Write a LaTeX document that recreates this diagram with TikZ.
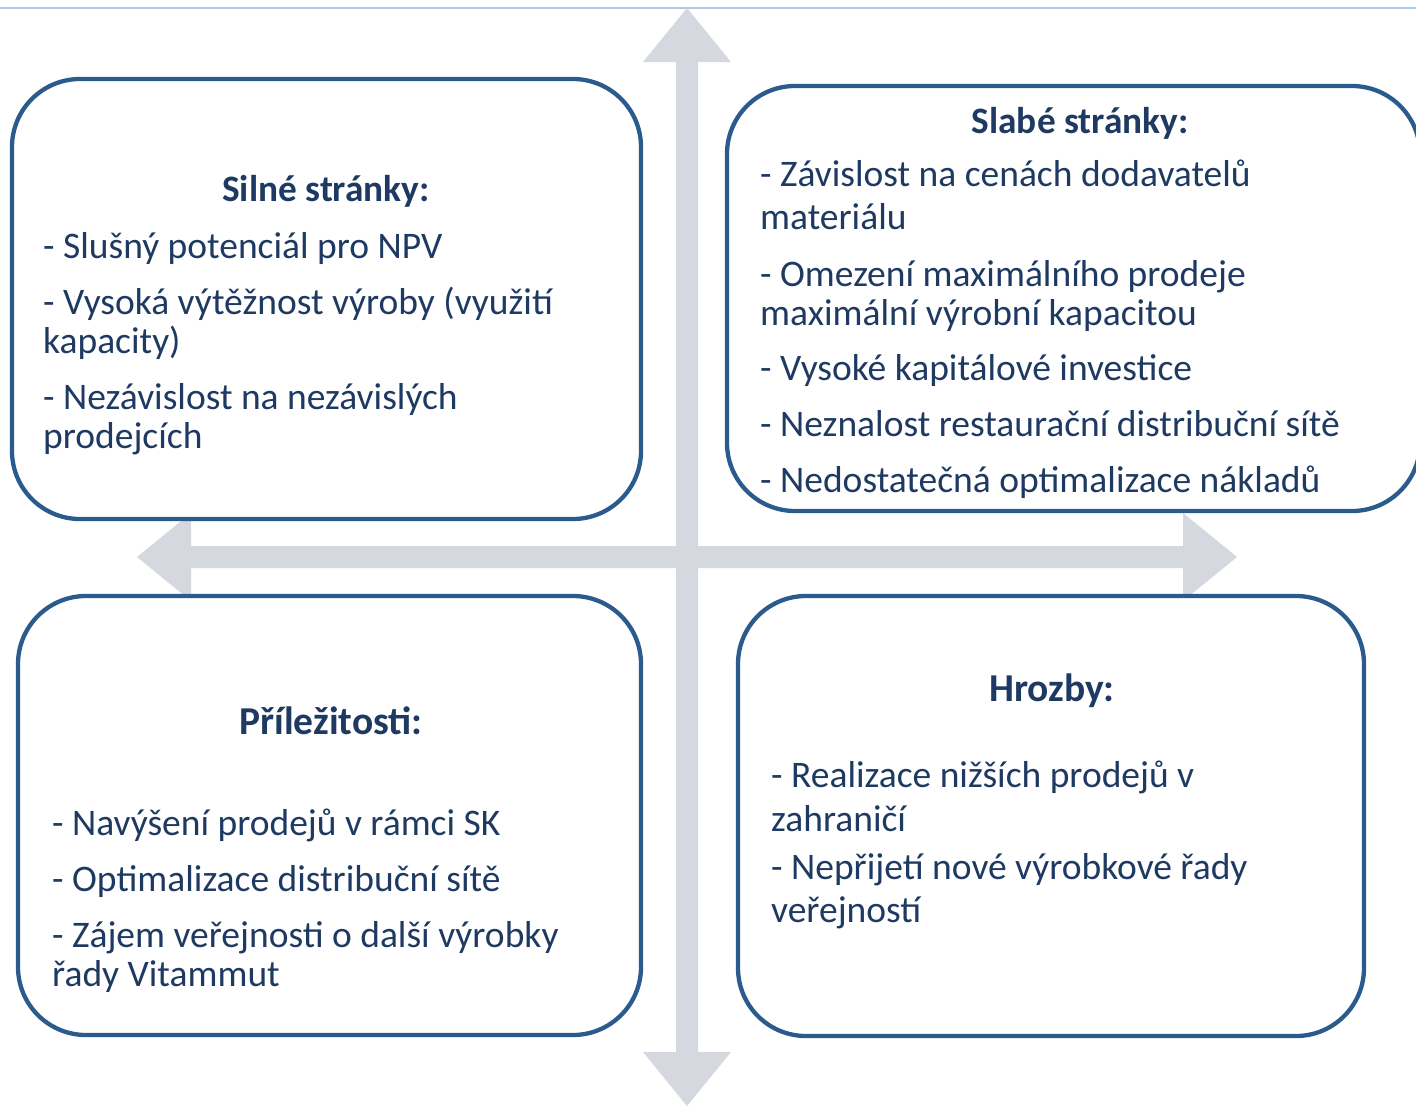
\documentclass[tikz,border=0pt]{standalone}
\usepackage{fontspec}
\setmainfont{Carlito}
\definecolor{txt}{HTML}{1F3A62}
\definecolor{edge}{HTML}{2A5B8C}
\definecolor{arr}{HTML}{D5D8DF}
\definecolor{topline}{HTML}{A9C8EC}
\begin{document}
\begin{tikzpicture}[x=1pt,y=-1pt,
  box/.style={draw=edge, line width=4.3pt, fill=white, rounded corners=68pt, inner sep=0pt, outer sep=0pt},
  ttl/.style={font=\fontsize{37.3}{40}\selectfont\bfseries, text=txt, inner sep=0pt, anchor=base},
  bigttl/.style={ttl, font=\fontsize{39.5}{42}\selectfont\bfseries},
  itm/.style={font=\fontsize{37.5}{40}\selectfont, text=txt, inner sep=0pt, anchor=base west}]
\useasboundingbox (0,0) rectangle (1416,1106);
\clip (0,0) rectangle (1416,1106);
\fill[white] (0,0) rectangle (1416,1106);
\draw[topline, line width=1.5pt] (0,8) -- (1416,8);
% block arrows
\fill[arr] (687,8) -- (731,62) -- (698,62) -- (698,1052) -- (731,1052) -- (687,1106) -- (643,1052) -- (676,1052) -- (676,62) -- (643,62) -- cycle;
\fill[arr] (137,557) -- (191,513) -- (191,546) -- (1183,546) -- (1183,513) -- (1237,557) -- (1183,601) -- (1183,568) -- (191,568) -- (191,601) -- cycle;
% boxes
\node[box, minimum width=629pt, minimum height=440pt] (tl) at (326.5,299) {};
\node[box, minimum width=693pt, minimum height=425pt] (tr) at (1073.5,298.5) {};
\node[box, minimum width=623pt, minimum height=439pt] (bl) at (329.5,815.5) {};
\node[box, minimum width=626pt, minimum height=440pt] (br) at (1051,816) {};
% top-left
\node[ttl] (tlt) at (326,201) {Silné stránky:};
\node[itm] (tl1) at (43,258) {- Slušný potenciál pro NPV};
\node[itm] (tl2) at (43,314) {- Vysoká výtěžnost výroby (využití};
\node[itm] (tl3) at (43,353) {kapacity)};
\node[itm] (tl4) at (43,409) {- Nezávislost na nezávislých};
\node[itm] (tl5) at (43,448) {prodejcích};
% top-right
\node[ttl] (trt) at (1080,133) {Slabé stránky:};
\node[itm] (tr1) at (760,186) {- Závislost na cenách dodavatelů};
\node[itm] (tr2) at (760,229) {materiálu};
\node[itm] (tr3) at (760,286) {- Omezení maximálního prodeje};
\node[itm] (tr4) at (760,325) {maximální výrobní kapacitou};
\node[itm] (tr5) at (760,380) {- Vysoké kapitálové investice};
\node[itm] (tr6) at (760,436) {- Neznalost restaurační distribuční sítě};
\node[itm] (tr7) at (760,492) {- Nedostatečná optimalizace nákladů};
% bottom-left
\node[bigttl] (blt) at (331,734) {Příležitosti:};
\node[itm] (bl1) at (52,835) {- Navýšení prodejů v rámci SK};
\node[itm] (bl2) at (52,891) {- Optimalizace distribuční sítě};
\node[itm] (bl3) at (52,947) {- Zájem veřejnosti o další výrobky};
\node[itm] (bl4) at (52,986) {řady Vitammut};
% bottom-right
\node[bigttl] (brt) at (1052,701) {Hrozby:};
\node[itm] (br1) at (771,787) {- Realizace nižších prodejů v};
\node[itm] (br2) at (771,831) {zahraničí};
\node[itm] (br3) at (771,879) {- Nepřijetí nové výrobkové řady};
\node[itm] (br4) at (771,922) {veřejností};
\end{tikzpicture}
\end{document}
